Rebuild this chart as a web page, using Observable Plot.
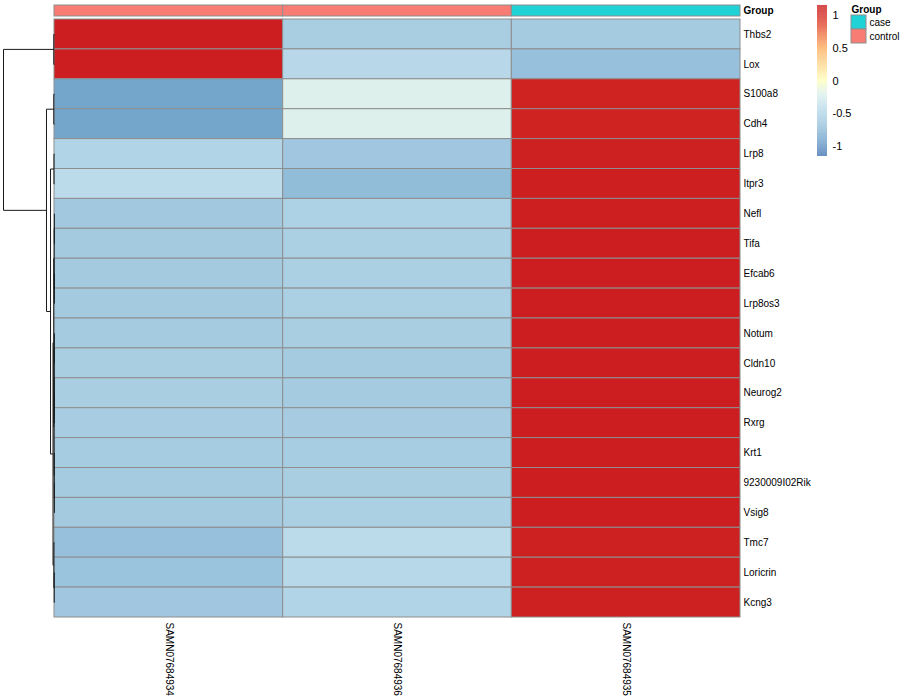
<!DOCTYPE html>
<html>
<head>
<meta charset="utf-8">
<script src="https://cdn.jsdelivr.net/npm/d3@7"></script>
<script src="https://cdn.jsdelivr.net/npm/@observablehq/plot@0.6"></script>
<style>
  html, body { margin: 0; padding: 0; background: #fff; }
  #chart { position: relative; width: 900px; height: 700px; overflow: hidden; }
  #chart svg { position: absolute; left: 0; top: 0; }
</style>
</head>
<body>
<div id="chart"></div>
<script>
// ---------- data ----------
const samples = ["SAMN07684934", "SAMN07684936", "SAMN07684935"];
const sampleGroups = ["control", "control", "case"];
const groupNames = ["case", "control"];
const groupColors = ["#1FD2D6", "#F87C73"];

const genes = ["Thbs2", "Lox", "S100a8", "Cdh4", "Lrp8", "Itpr3", "Nefl", "Tifa", "Efcab6", "Lrp8os3",
  "Notum", "Cldn10", "Neurog2", "Rxrg", "Krt1", "9230009I02Rik", "Vsig8", "Tmc7", "Loricrin", "Kcng3"];

// row-scaled values per sample column
const valsSAMN07684934 = [1.15, 1.15, -0.89, -0.89, -0.50, -0.42, -0.62, -0.60, -0.60, -0.60,
  -0.59, -0.56, -0.56, -0.57, -0.585, -0.59, -0.60, -0.70, -0.67, -0.63];
const valsSAMN07684936 = [-0.56, -0.45, -0.20, -0.20, -0.63, -0.72, -0.52, -0.55, -0.55, -0.55,
  -0.56, -0.59, -0.59, -0.58, -0.575, -0.56, -0.55, -0.43, -0.46, -0.50];
const valsSAMN07684935 = [-0.59, -0.70, 1.09, 1.09, 1.13, 1.14, 1.14, 1.15, 1.15, 1.15,
  1.15, 1.15, 1.15, 1.15, 1.15, 1.15, 1.15, 1.13, 1.13, 1.13];

// colour ramp stops
const colorStops = [-1.15, -0.89, -0.70, -0.60, -0.50, -0.42, -0.20, 0, 0.5, 0.85, 1.0, 1.15];
const colorRamp = ["#4575B4", "#74A6CC", "#96C0DB", "#A4CAE0", "#B1D4E6", "#BCDBEA", "#DDF0EC",
  "#FFFFBF", "#FDAE61", "#E34A33", "#D42B25", "#CC1E20"];
const legendTicks = [-1, -0.5, 0, 0.5, 1];

// row dendrogram merges (id, left, right, height)
const dendroMerges = [
  ["m1", "Thbs2", "Lox", 0.14],
  ["m2", "S100a8", "Cdh4", 0.14],
  ["m3", "Lrp8", "Itpr3", 0.10],
  ["x1", "Nefl", "Tifa", 0.03],
  ["x2", "Efcab6", "Lrp8os3", 0.02],
  ["X", "x1", "x2", 0.06],
  ["y1a", "Notum", "Cldn10", 0.03],
  ["y1b", "Neurog2", "Rxrg", 0.02],
  ["Y1", "y1a", "y1b", 0.05],
  ["y2a", "9230009I02Rik", "Vsig8", 0.02],
  ["Y2", "Krt1", "y2a", 0.04],
  ["Y", "Y1", "Y2", 0.08],
  ["D", "X", "Y", 0.15],
  ["e1", "Loricrin", "Kcng3", 0.05],
  ["E", "Tmc7", "e1", 0.12],
  ["C", "D", "E", 0.29],
  ["B", "m3", "C", 0.78],
  ["A", "m2", "B", 1.57],
  ["root", "m1", "A", 10]
];

// ---------- build tables ----------
const valueCols = [valsSAMN07684934, valsSAMN07684936, valsSAMN07684935];
const cells = [];
genes.forEach((g, i) => samples.forEach((s, j) => cells.push({gene: g, sample: s, value: valueCols[j][i]})));
const annot = samples.map((s, j) => ({sample: s, group: sampleGroups[j]}));

const nodePos = new Map(genes.map((g, i) => [g, {y: i, h: 0}]));
const dendroSegs = [];
for (const [id, l, r, h] of dendroMerges) {
  const L = nodePos.get(l), R = nodePos.get(r);
  dendroSegs.push({x1: L.h, y1: L.y, x2: h, y2: L.y});
  dendroSegs.push({x1: R.h, y1: R.y, x2: h, y2: R.y});
  dendroSegs.push({x1: h, y1: L.y, x2: h, y2: R.y});
  nodePos.set(id, {y: (L.y + R.y) / 2, h});
}
const rootH = dendroMerges[dendroMerges.length - 1][3];

const font = "'Liberation Sans', Arial, Helvetica, sans-serif";
const baseStyle = {background: "transparent", fontFamily: font, fontSize: "10px", color: "#000", overflow: "visible"};
const chart = document.getElementById("chart");
const add = (svg) => chart.appendChild(svg);

// ---------- heatmap ----------
add(Plot.plot({
  width: 900, height: 700,
  marginLeft: 54, marginRight: 160, marginTop: 19, marginBottom: 83,
  style: baseStyle,
  x: {domain: samples, padding: 0, round: false, label: null},
  y: {domain: genes, padding: 0, round: false, label: null},
  color: {type: "linear", domain: colorStops, range: colorRamp, clamp: true},
  marks: [
    Plot.cell(cells, {x: "sample", y: "gene", fill: "value", stroke: "#8E8E8E", strokeWidth: 1}),
    Plot.axisY({anchor: "right", tickSize: 0, tickPadding: 3, label: null}),
    Plot.axisX({anchor: "bottom", tickSize: 0, tickPadding: 5, tickRotate: 90, label: null})
  ]
}));

// ---------- annotation bar ----------
add(Plot.plot({
  width: 900, height: 700,
  marginLeft: 54, marginRight: 160, marginTop: 5, marginBottom: 684,
  style: baseStyle,
  x: {domain: samples, padding: 0, round: false, axis: null},
  y: {domain: ["Group"], padding: 0, round: false, label: null},
  color: {domain: groupNames, range: groupColors},
  marks: [
    Plot.cell(annot, {x: "sample", y: () => "Group", fill: "group", stroke: "#8E8E8E", strokeWidth: 1}),
    Plot.axisY({anchor: "right", tickSize: 0, tickPadding: 3, label: null, fontWeight: "bold"})
  ]
}));

// ---------- dendrogram ----------
add(Plot.plot({
  width: 900, height: 700,
  marginLeft: 3, marginRight: 846, marginTop: 19, marginBottom: 83,
  style: baseStyle,
  x: {domain: [rootH, 0], axis: null},
  y: {domain: [-0.5, genes.length - 0.5], reverse: true, axis: null},
  marks: [
    Plot.link(dendroSegs, {x1: "x1", y1: "y1", x2: "x2", y2: "y2", stroke: "#1a1a1a", strokeWidth: 1})
  ]
}));

// ---------- colour legend ----------
const legendSteps = d3.range(0, 230).map(i => colorStops[0] + i * 0.01);
add(Plot.plot({
  width: 900, height: 700,
  marginLeft: 817, marginRight: 73, marginTop: 5, marginBottom: 544,
  style: {...baseStyle, fontSize: "11px"},
  x: {domain: [0, 1], axis: null},
  y: {domain: [colorStops[0], colorStops[colorStops.length - 1]], label: null},
  color: {type: "linear", domain: colorStops, range: colorRamp, clamp: true},
  marks: [
    Plot.rect(legendSteps, {x1: 0, x2: 1, y1: d => d, y2: d => d + 0.0105, fill: d => d + 0.005}),
    Plot.axisY({anchor: "right", ticks: legendTicks, tickSize: 0, tickPadding: 5, label: null, tickFormat: d => String(d)})
  ]
}));

// ---------- group legend ----------
add(Plot.plot({
  width: 900, height: 700,
  marginLeft: 851, marginRight: 34, marginTop: 15, marginBottom: 657,
  style: baseStyle,
  x: {domain: ["swatch"], padding: 0, round: false, axis: null},
  y: {domain: groupNames, padding: 0, round: false, label: null},
  color: {domain: groupNames, range: groupColors},
  marks: [
    Plot.cell(groupNames, {x: () => "swatch", y: d => d, fill: d => d, stroke: "#8E8E8E", strokeWidth: 1}),
    Plot.axisY({anchor: "right", tickSize: 0, tickPadding: 3, label: null}),
    Plot.text(["Group"], {text: d => d, frameAnchor: "top-left", textAnchor: "start", lineAnchor: "bottom", dy: -3, fontWeight: "bold"})
  ]
}));
</script>
</body>
</html>
